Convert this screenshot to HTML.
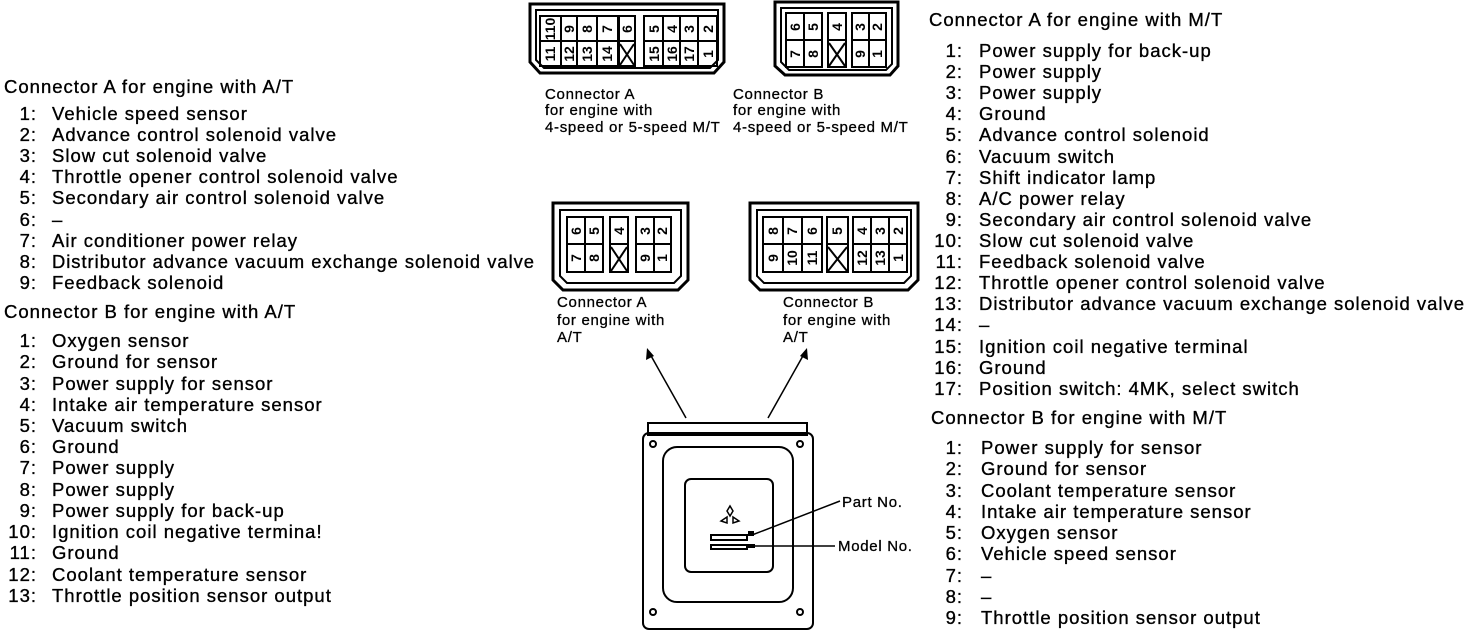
<!DOCTYPE html>
<html><head><meta charset="utf-8"><style>
html,body{margin:0;padding:0;background:#fff;width:1472px;height:632px;overflow:hidden}
svg text{font-family:"Liberation Sans",sans-serif;fill:#000}
.t text{font-size:18.5px;letter-spacing:1px;stroke:#000;stroke-width:0.35px}
.s text{font-size:15px;letter-spacing:0.7px;stroke:#000;stroke-width:0.3px}
.n text{font-size:14px;font-weight:bold}
</style></head><body>
<svg width="1472" height="632" viewBox="0 0 1472 632" xmlns="http://www.w3.org/2000/svg">
<g class="t">
<text x="4" y="93">Connector A for engine with A/T</text>
<g text-anchor="end">
<text x="37" y="120">1:</text><text x="37" y="141">2:</text><text x="37" y="162">3:</text><text x="37" y="183">4:</text><text x="37" y="204">5:</text><text x="37" y="226">6:</text><text x="37" y="247">7:</text><text x="37" y="268">8:</text><text x="37" y="289">9:</text>
</g>
<text x="52" y="120">Vehicle speed sensor</text>
<text x="52" y="141">Advance control solenoid valve</text>
<text x="52" y="162">Slow cut solenoid valve</text>
<text x="52" y="183">Throttle opener control solenoid valve</text>
<text x="52" y="204">Secondary air control solenoid valve</text>
<text x="52" y="226">–</text>
<text x="52" y="247">Air conditioner power relay</text>
<text x="52" y="268" textLength="483" lengthAdjust="spacingAndGlyphs">Distributor advance vacuum exchange solenoid valve</text>
<text x="52" y="289">Feedback solenoid</text>

<text x="4" y="318">Connector B for engine with A/T</text>
<g text-anchor="end">
<text x="37" y="347">1:</text><text x="37" y="368">2:</text><text x="37" y="390">3:</text><text x="37" y="411">4:</text><text x="37" y="432">5:</text><text x="37" y="453">6:</text><text x="37" y="474">7:</text><text x="37" y="496">8:</text><text x="37" y="517">9:</text><text x="37" y="538">10:</text><text x="37" y="559">11:</text><text x="37" y="581">12:</text><text x="37" y="602">13:</text>
</g>
<text x="52" y="347">Oxygen sensor</text>
<text x="52" y="368">Ground for sensor</text>
<text x="52" y="390">Power supply for sensor</text>
<text x="52" y="411">Intake air temperature sensor</text>
<text x="52" y="432">Vacuum switch</text>
<text x="52" y="453">Ground</text>
<text x="52" y="474">Power supply</text>
<text x="52" y="496">Power supply</text>
<text x="52" y="517">Power supply for back-up</text>
<text x="52" y="538">Ignition coil negative termina!</text>
<text x="52" y="559">Ground</text>
<text x="52" y="581">Coolant temperature sensor</text>
<text x="52" y="602">Throttle position sensor output</text>

<text x="929" y="26">Connector A for engine with M/T</text>
<g text-anchor="end">
<text x="963" y="57">1:</text><text x="963" y="78">2:</text><text x="963" y="99">3:</text><text x="963" y="120">4:</text><text x="963" y="141">5:</text><text x="963" y="163">6:</text><text x="963" y="184">7:</text><text x="963" y="205">8:</text><text x="963" y="226">9:</text><text x="963" y="247">10:</text><text x="963" y="268">11:</text><text x="963" y="289">12:</text><text x="963" y="310">13:</text><text x="963" y="331">14:</text><text x="963" y="353">15:</text><text x="963" y="374">16:</text><text x="963" y="395">17:</text>
</g>
<text x="979" y="57">Power supply for back-up</text>
<text x="979" y="78">Power supply</text>
<text x="979" y="99">Power supply</text>
<text x="979" y="120">Ground</text>
<text x="979" y="141">Advance control solenoid</text>
<text x="979" y="163">Vacuum switch</text>
<text x="979" y="184">Shift indicator lamp</text>
<text x="979" y="205">A/C power relay</text>
<text x="979" y="226">Secondary air control solenoid valve</text>
<text x="979" y="247">Slow cut solenoid valve</text>
<text x="979" y="268">Feedback solenoid valve</text>
<text x="979" y="289">Throttle opener control solenoid valve</text>
<text x="979" y="310" textLength="486" lengthAdjust="spacingAndGlyphs">Distributor advance vacuum exchange solenoid valve</text>
<text x="979" y="331">–</text>
<text x="979" y="353">Ignition coil negative terminal</text>
<text x="979" y="374">Ground</text>
<text x="979" y="395">Position switch: 4MK, select switch</text>

<text x="931" y="424">Connector B for engine with M/T</text>
<g text-anchor="end">
<text x="963" y="454">1:</text><text x="963" y="475">2:</text><text x="963" y="497">3:</text><text x="963" y="518">4:</text><text x="963" y="539">5:</text><text x="963" y="560">6:</text><text x="963" y="582">7:</text><text x="963" y="603">8:</text><text x="963" y="624">9:</text>
</g>
<text x="981" y="454">Power supply for sensor</text>
<text x="981" y="475">Ground for sensor</text>
<text x="981" y="497">Coolant temperature sensor</text>
<text x="981" y="518">Intake air temperature sensor</text>
<text x="981" y="539">Oxygen sensor</text>
<text x="981" y="560">Vehicle speed sensor</text>
<text x="981" y="582">–</text>
<text x="981" y="603">–</text>
<text x="981" y="624">Throttle position sensor output</text>
</g>

<g fill="none" stroke="#000" stroke-width="2">
<path d="M530 4 H724 V62 L714 73 H540 L530 62 Z" stroke-width="3"/>
<path d="M536 10 H718 V60 L710 68 H544 L536 60 Z"/>
<rect x="540" y="16" width="78" height="50"/>
<line x1="540" y1="41" x2="618" y2="41"/>
<line x1="561" y1="16" x2="561" y2="66"/><line x1="577" y1="16" x2="577" y2="66"/><line x1="597" y1="16" x2="597" y2="66"/>
<rect x="619" y="16" width="16" height="50"/><line x1="619" y1="41" x2="635" y2="41"/>
<path d="M620 44 L634 65 M634 44 L620 65"/>
<rect x="644" y="16" width="73" height="50"/>
<line x1="644" y1="41" x2="717" y2="41"/>
<line x1="663" y1="16" x2="663" y2="66"/><line x1="680" y1="16" x2="680" y2="66"/><line x1="698" y1="16" x2="698" y2="66"/>
<path d="M775 2 H898 V66 L890 75 H785 L775 66 Z" stroke-width="3"/>
<path d="M781 8 H892 V64 L886 70 H789 L781 62 Z"/>
<rect x="786" y="13" width="36" height="54"/><line x1="786" y1="40" x2="822" y2="40"/><line x1="804" y1="13" x2="804" y2="67"/>
<rect x="828" y="13" width="18" height="54"/><line x1="828" y1="40" x2="846" y2="40"/>
<path d="M829 43 L845 66 M845 43 L829 66"/>
<rect x="852" y="13" width="34" height="54"/><line x1="852" y1="40" x2="886" y2="40"/><line x1="869" y1="13" x2="869" y2="67"/>
<path d="M553 203 H688 V280 L678 290 H563 L553 280 Z" stroke-width="3"/>
<path d="M560 210 H681 V276 L674 283 H567 L560 276 Z"/>
<rect x="567" y="217" width="36" height="55"/><line x1="567" y1="244" x2="603" y2="244"/><line x1="585" y1="217" x2="585" y2="272"/>
<rect x="610" y="217" width="18" height="55"/><line x1="610" y1="244" x2="628" y2="244"/>
<path d="M611 247 L627 271 M627 247 L611 271"/>
<rect x="636" y="217" width="35" height="55"/><line x1="636" y1="244" x2="671" y2="244"/><line x1="654" y1="217" x2="654" y2="272"/>
<path d="M750 203 H918 V280 L908 290 H760 L750 280 Z" stroke-width="3"/>
<path d="M757 210 H911 V276 L904 283 H764 L757 276 Z"/>
<rect x="763" y="217" width="59" height="55"/><line x1="763" y1="244" x2="822" y2="244"/><line x1="783" y1="217" x2="783" y2="272"/><line x1="802" y1="217" x2="802" y2="272"/>
<rect x="827" y="217" width="21" height="55"/><line x1="827" y1="244" x2="848" y2="244"/>
<path d="M828 247 L847 271 M847 247 L828 271"/>
<rect x="853" y="217" width="54" height="55"/><line x1="853" y1="244" x2="907" y2="244"/><line x1="871" y1="217" x2="871" y2="272"/><line x1="889" y1="217" x2="889" y2="272"/>
</g>
<g class="n" text-anchor="middle">
<text transform="translate(550,29) rotate(-90)" y="5">110</text>
<text transform="translate(569,29) rotate(-90)" y="5">9</text>
<text transform="translate(587,29) rotate(-90)" y="5">8</text>
<text transform="translate(607,29) rotate(-90)" y="5">7</text>
<text transform="translate(627,29) rotate(-90)" y="5">6</text>
<text transform="translate(654,29) rotate(-90)" y="5">5</text>
<text transform="translate(672,29) rotate(-90)" y="5">4</text>
<text transform="translate(689,29) rotate(-90)" y="5">3</text>
<text transform="translate(708,29) rotate(-90)" y="5">2</text>
<text transform="translate(550,54) rotate(-90)" y="5">11</text>
<text transform="translate(569,54) rotate(-90)" y="5">12</text>
<text transform="translate(587,54) rotate(-90)" y="5">13</text>
<text transform="translate(607,54) rotate(-90)" y="5">14</text>
<text transform="translate(654,54) rotate(-90)" y="5">15</text>
<text transform="translate(672,54) rotate(-90)" y="5">16</text>
<text transform="translate(689,54) rotate(-90)" y="5">17</text>
<text transform="translate(708,54) rotate(-90)" y="5">1</text>
<text transform="translate(795,27) rotate(-90)" y="5">6</text>
<text transform="translate(813,27) rotate(-90)" y="5">5</text>
<text transform="translate(837,27) rotate(-90)" y="5">4</text>
<text transform="translate(860,27) rotate(-90)" y="5">3</text>
<text transform="translate(877,27) rotate(-90)" y="5">2</text>
<text transform="translate(795,54) rotate(-90)" y="5">7</text>
<text transform="translate(813,54) rotate(-90)" y="5">8</text>
<text transform="translate(860,54) rotate(-90)" y="5">9</text>
<text transform="translate(877,54) rotate(-90)" y="5">1</text>
<text transform="translate(576,231) rotate(-90)" y="5">6</text>
<text transform="translate(594,231) rotate(-90)" y="5">5</text>
<text transform="translate(619,231) rotate(-90)" y="5">4</text>
<text transform="translate(645,231) rotate(-90)" y="5">3</text>
<text transform="translate(662,231) rotate(-90)" y="5">2</text>
<text transform="translate(576,258) rotate(-90)" y="5">7</text>
<text transform="translate(594,258) rotate(-90)" y="5">8</text>
<text transform="translate(645,258) rotate(-90)" y="5">9</text>
<text transform="translate(662,258) rotate(-90)" y="5">1</text>
<text transform="translate(773,231) rotate(-90)" y="5">8</text>
<text transform="translate(792,231) rotate(-90)" y="5">7</text>
<text transform="translate(812,231) rotate(-90)" y="5">6</text>
<text transform="translate(837,231) rotate(-90)" y="5">5</text>
<text transform="translate(862,231) rotate(-90)" y="5">4</text>
<text transform="translate(880,231) rotate(-90)" y="5">3</text>
<text transform="translate(898,231) rotate(-90)" y="5">2</text>
<text transform="translate(773,258) rotate(-90)" y="5">9</text>
<text transform="translate(792,258) rotate(-90)" y="5">10</text>
<text transform="translate(812,258) rotate(-90)" y="5">11</text>
<text transform="translate(862,258) rotate(-90)" y="5">12</text>
<text transform="translate(880,258) rotate(-90)" y="5">13</text>
<text transform="translate(898,258) rotate(-90)" y="5">1</text>
</g>
<g class="s">
<text x="545" y="99">Connector A</text><text x="545" y="115">for engine with</text><text x="545" y="132">4-speed or 5-speed M/T</text>
<text x="733" y="99">Connector B</text><text x="733" y="115">for engine with</text><text x="733" y="132">4-speed or 5-speed M/T</text>
<text x="557" y="307">Connector A</text><text x="557" y="325">for engine with</text><text x="557" y="342">A/T</text>
<text x="783" y="307">Connector B</text><text x="783" y="325">for engine with</text><text x="783" y="342">A/T</text>
<text x="842" y="507" letter-spacing="0.3">Part No.</text>
<text x="838" y="551" letter-spacing="0.3">Model No.</text>
</g>
<g stroke="#000" stroke-width="1.5" fill="none">
<line x1="686" y1="418" x2="650" y2="354"/>
<line x1="768" y1="418" x2="804" y2="354"/>
</g>
<path d="M647 348 L646 360 L654 356 Z"/>
<path d="M807 348 L800 356 L808 360 Z"/>
<g fill="none" stroke="#000" stroke-width="2">
<rect x="648" y="423" width="159" height="12"/>
<rect x="643" y="433" width="170" height="196" rx="6"/>
<rect x="663" y="447" width="130" height="155" rx="14"/>
<rect x="685" y="479" width="88" height="93" rx="6"/>
<circle cx="653" cy="444" r="3"/><circle cx="800" cy="444" r="3"/>
<circle cx="653" cy="612" r="3"/><circle cx="800" cy="612" r="3"/>
<rect x="711" y="535" width="36" height="5"/><rect x="711" y="545" width="36" height="4"/>
</g>
<g stroke="#000" stroke-width="1.5" fill="none">
<path d="M730 516 l-3 -5 l3 -5 l3 5 Z M727 517 l-6 4 l6 2 Z M733 517 l6 4 l-6 2 Z"/>
<line x1="752" y1="535" x2="840" y2="501"/>
<line x1="752" y1="546" x2="835" y2="546"/>
</g>
<rect x="748" y="531" width="6" height="5"/><rect x="748" y="544" width="7" height="4"/>
</svg>
</body></html>
